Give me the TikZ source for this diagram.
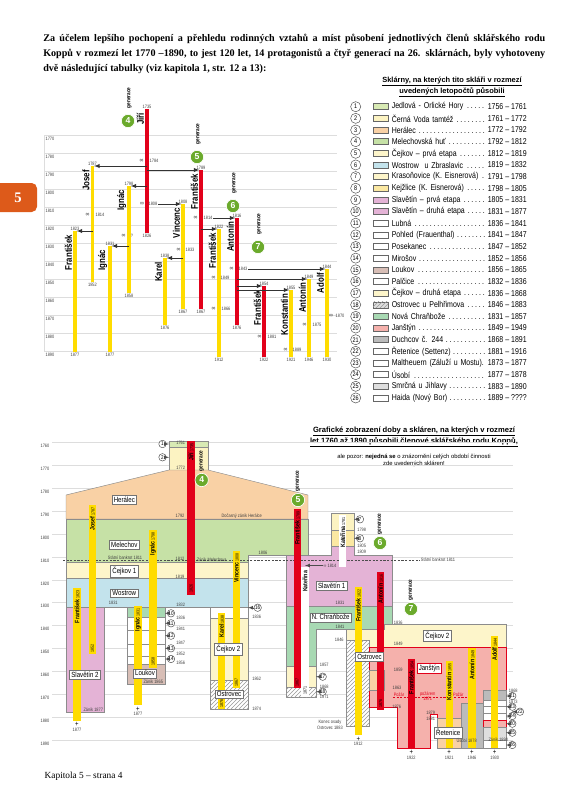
\documentclass[tikz,border=0pt]{standalone}
\usepackage{fontspec}
\setmainfont{Liberation Serif}
\newfontfamily\condfont{Liberation Sans}[FakeStretch=0.82]
\newfontfamily\plainsans{Liberation Sans}
\usetikzlibrary{patterns}

\definecolor{koppyellow}{HTML}{FFDC00}
\definecolor{koppred}{HTML}{E2001A}
\definecolor{gengreen}{HTML}{6BAA2C}
\definecolor{tabor}{HTML}{DD5A1A}
\definecolor{gridgrey}{HTML}{DDDDDD}
\definecolor{jedlova}{HTML}{D8EAB4}
\definecolor{cernavoda}{HTML}{FCF3C2}
\definecolor{heralec}{HTML}{F9D1A5}
\definecolor{melechov}{HTML}{C6E1A6}
\definecolor{cejkov}{HTML}{FDF5CA}
\definecolor{wostrow}{HTML}{C3E3EC}
\definecolor{kejzlice}{HTML}{FBE8A2}
\definecolor{slavetin}{HTML}{E4B3D6}
\definecolor{loukov}{HTML}{D8BEB6}
\definecolor{chranboze}{HTML}{A8D9B3}
\definecolor{janstyn}{HTML}{F5B1AC}
\definecolor{duchcov}{HTML}{BBBBBB}
\definecolor{smrcna}{HTML}{DEDEDE}

\tikzset{
  gridline/.style={gridgrey, line width=0.5pt},
  yearlab/.style={font=\condfont\fontsize{3.6}{4}\selectfont, text=black!75, inner sep=0.4pt},
  inflab/.style={font=\condfont\fontsize{5}{4}\selectfont, text=black!75, inner sep=0.4pt},
  pname/.style={rotate=90, font=\condfont\bfseries\fontsize{7.2}{7}\selectfont, inner sep=0.3pt},
  bname/.style={rotate=90, font=\condfont\bfseries\fontsize{4.8}{5}\selectfont, inner sep=0.6pt},
  gen/.style={circle, fill=gengreen, draw=white, line width=0.5pt, text=white,
    font=\plainsans\bfseries\fontsize{6.5}{6}\selectfont, inner sep=0pt, minimum size=10pt},
  genlab/.style={rotate=90, font=\condfont\bfseries\fontsize{4.3}{4}\selectfont, inner sep=0.3pt},
  kid/.style={-latex, line width=0.45pt, black!80, shorten >=1.2pt},
  placebox/.style={draw=black!55, fill=white, line width=0.35pt,
    font=\condfont\fontsize{5.6}{6}\selectfont, inner sep=1.3pt},
  numcirc/.style={circle, draw=black!70, fill=white, line width=0.35pt,
    font=\condfont\fontsize{4.2}{4}\selectfont, inner sep=0pt, minimum size=5.6pt},
  numarrow/.style={-latex, line width=0.3pt, black!70},
  region/.style={draw=black!45, line width=0.35pt},
  hatch/.style={pattern=north east lines, pattern color=black!40},
  tabrow/.style={font=\condfont\fontsize{6.4}{7}\selectfont, inner sep=0pt}
}

\begin{document}
\begin{tikzpicture}[x=0.75pt, y=-0.75pt]
  \useasboundingbox (0,0) rectangle (571,800);

  % page tab and footer
  \fill[tabor, rounded corners=4pt] (-6,183) rectangle (37,212);
  \node[font=\bfseries\fontsize{11}{11}\selectfont, text=white] (tab) at (18,197.5) {5};
  \node[anchor=west, font=\fontsize{7}{8}\selectfont] (footer) at (40,776) {Kapitola 5 – strana 4};

  % intro text
  \node[anchor=north west, text width=376.5pt, align=justify, inner sep=0pt,
        font=\bfseries\fontsize{7.6}{11.1}\selectfont] (intro) at (43,34)
    {Za účelem lepšího pochopení a přehledu rodinných vztahů a míst působení jednotlivých členů sklářského rodu\linebreak
     Koppů v rozmezí let 1770 –1890, to jest 120 let, 14 protagonistů a čtyř generací na 26. sklárnách, byly vyhotoveny\linebreak
     dvě následující tabulky (viz kapitola 1, str. 12 a 13):};

  % ================= top chart =================
  % grid
  \foreach \yr in {1770,1780,...,1890}
    {
    \draw[gridline] (44,{135.5+(\yr-1770)*1.8}) -- (337,{135.5+(\yr-1770)*1.8});
    \node[yearlab] (ty\yr) at (50,{138.6+(\yr-1770)*1.8}) {\yr};
    }
  \draw[gridline] (44,135.5) -- (44,351.5);

  % persons
  \foreach \id/\nm/\x/\tp/\bt/\col/\ya/\yb in {
      jiri/Jiří/147/109/233/koppred/1735/1826,
      josef/Josef/92.5/166/282/koppyellow/1787/1852,
      ignac/Ignác/129/186/293/koppyellow/1798/1858,
      vincenc/Vincenc/183/204/309/koppyellow/1808/1867,
      frantV/František/201/170/309/koppred/1789/1867,
      frantL/František/75/231/352/koppyellow/1823/1877,
      ignacII/Ignác/110/246/352/koppyellow/1831/1877,
      karel/Karel/165/258/325/koppyellow/1838/1876,
      frantVI/František/219/229/357/koppyellow/1822/1912,
      antonVI/Antonín/237/218/325/koppred/1816/1876,
      frantVII/František/264/286/357/koppred/1854/1922,
      konst/Konstantin/291/290/357/koppyellow/1855/1921,
      antonVII/Antonín/309/279/357/koppyellow/1849/1946,
      adolf/Adolf/327/269/357/koppyellow/1844/1930}
    {
    \coordinate (\id-t) at (\x,\tp);
    \coordinate (\id-b) at (\x,\bt);
    \draw[line width=2.3pt, \col] (\id-t) -- (\id-b);
    \node[yearlab, anchor=south] (\id-ya) at (\id-t) {\ya};
    \node[yearlab, anchor=north] (\id-yb) at (\id-b) {\yb};
    \node[pname, anchor=south east] (\id-nm) at ([xshift=-1.7pt, yshift=-2.5pt]\id-t) {\nm};
    }

  % marriages
  \foreach \mx/\my/\yx/\yr/\id in {
      141.5/161/154/1784/a, 142/204/153/1808/b, 87.5/215/100/1814/c,
      123.5/236/132/?/d, 178.5/250/190/1833/e, 195.5/218/208/1814/f,
      231.5/269/243/1843/g, 213.5/278/225/1849/h, 213.5/309/226/1866/i,
      259.5/337/272/1881/j, 285.5/350/297/1889/k, 304.5/325/317/1875/l,
      331/316/340/1870/m}
    {
    \node[inflab] (inf\id) at (\mx,\my) {∞};
    \node[yearlab] (mar\id) at (\yx,\my) {\yr};
    }

  % children
  \draw[kid] (jiri-t |- josef-t) -- (josef-t);
  \draw[kid] (jiri-t |- frantV-t) -- (frantV-t);
  \draw[kid] (jiri-t |- ignac-t) -- (ignac-t);
  \draw[kid] (marb.east) -- (vincenc-t);
  \draw[kid] (josef-t |- frantL-t) -- (frantL-t);
  \draw[kid] (ignac-t |- ignacII-t) -- (ignacII-t);
  \draw[kid] (vincenc-t |- karel-t) -- (karel-t);
  \draw[kid] (marf.east) -- (antonVI-t);
  \draw[kid] (frantV-t |- frantVI-t) -- (frantVI-t);
  \draw[kid] (marg.east) -- (adolf-t);
  \draw[kid] (antonVI-t |- antonVII-t) -- (antonVII-t);
  \draw[kid] (antonVI-t |- frantVII-t) -- (frantVII-t);
  \draw[kid] (antonVI-t |- konst-t) -- (konst-t);

  % generations
  \foreach \g/\gx/\gy in {4/128/121, 5/197/157, 6/233/206, 7/258/247}
    {
    \node[gen] (gen\g) at (\gx,\gy) {\g};
    \node[genlab] (genl\g) at (\gx+1.5,\gy-23) {generace};
    }

  % ================= table =================
  \node[font=\plainsans\bfseries\fontsize{5.6}{8}\selectfont, align=center] (tabtitle) at (452,87)
    {\underline{Sklárny, na kterých tito skláři v rozmezí}\\\underline{uvedených letopočtů působili}};
  \foreach \n/\col/\nm/\dt in {
      1/jedlova/Jedlová - Orlické Hory/1756 – 1761,
      2/cernavoda/Černá Voda tamtéž/1761 – 1772,
      3/heralec/Herálec/1772 – 1792,
      4/melechov/Melechovská huť/1792 – 1812,
      5/cejkov/Čejkov – prvá etapa/1812 – 1819,
      6/wostrow/Wostrow~ u Zbraslavic/1819 – 1832,
      7/cejkov/Krasoňovice (K. Eisnerová)/1791 – 1798,
      8/kejzlice/Kejžlice (K. Eisnerová)/1798 – 1805,
      9/slavetin/Slavětín – prvá etapa/1805 – 1831,
      10/slavetin/Slavětín – druhá etapa/1831 – 1877,
      11/white/Lubná/1836 – 1841,
      12/white/Pohled (Frauenthal)/1841 – 1847,
      13/white/Posekanec/1847 – 1852,
      14/white/Mirošov/1852 – 1856,
      15/loukov/Loukov/1856 – 1865,
      16/white/Palčice/1832 – 1836,
      17/cejkov/Čejkov – druhá etapa/1836 – 1868,
      18/smrcna/Ostrovec u Pelhřimova/1846 – 1883,
      19/chranboze/Nová Chraňbože/1831 – 1857,
      20/janstyn/Janštýn/1849 – 1949,
      21/duchcov/Duchcov č. 244/1868 – 1891,
      22/white/Řetenice (Settenz)/1881 – 1916,
      23/white/Maltheuern (Záluží u Mostu)./1873 – 1877,
      24/white/Úsobí/1877 – 1878,
      25/smrcna/Smrčná u Jihlavy/1883 – 1890,
      26/white/Haida (Nový Bor)/1889 – ????}
    {
    \node[numcirc, minimum size=7.6pt, font=\condfont\fontsize{5}{5}\selectfont] (tc\n) at (355.7,{106.7+(\n-1)*11.65}) {\n};
    \draw[black!60, line width=0.35pt, fill=\col] (373,{103.7+(\n-1)*11.65}) rectangle (388,{109.7+(\n-1)*11.65});
    \node[tabrow, anchor=west, text width=71pt] (tn\n) at (391.5,{106.7+(\n-1)*11.65}) {\nm\,\dotfill};
    \node[tabrow, anchor=east] (td\n) at (527,{106.7+(\n-1)*11.65}) {\dt};
    }
  \fill[hatch] (373,{103.7+17*11.65}) rectangle (388,{109.7+17*11.65});

  % ================= bottom chart =================
  \node[font=\plainsans\bfseries\fontsize{5.7}{8.4}\selectfont, align=center] (btitle) at (414,437)
    {\underline{Grafické zobrazení doby a skláren, na kterých v rozmezí}\\\underline{let 1760 až 1890 působili členové sklářského rodu Koppů,}};
  \node[font=\plainsans\fontsize{4.4}{5.6}\selectfont, align=center] (bnote) at (414,460.5)
    {ale pozor: \textbf{nejedná se} o znázornění celých období činnosti\\zde uvedených skláren!};

  % grid
  \foreach \yr in {1760,1770,...,1890}
    {
    \draw[gridline] (52,{442.5+(\yr-1760)*2.29}) -- (513,{442.5+(\yr-1760)*2.29});
    \node[yearlab] (by\yr) at (45,{446+(\yr-1760)*2.29}) {\yr};
    }

  % glassworks, first generations
  \filldraw[region, fill=jedlova] (169,441) rectangle (208,447);
  \filldraw[region, fill=cernavoda] (169,447) rectangle (208,470);
  \filldraw[region, fill=heralec] (66,495) -- (169,470) -- (208,470) -- (308,495) -- (308,519) -- (66,519) -- cycle;
  \filldraw[region, fill=melechov] (66,519) -- (308,519) -- (308,555) -- (248,555) -- (248,562) -- (66,562) -- cycle;
  \filldraw[region, fill=cejkov] (66,562) rectangle (248,578);
  \filldraw[region, fill=wostrow] (66,578) rectangle (248,607);
  \filldraw[region, fill=slavetin] (66,607) rectangle (104,712);
  % Lubná ... Loukov
  \filldraw[region, fill=chranboze] (127,607) rectangle (165,617);
  \foreach \ra/\rb in {617/630, 630/644, 644/656, 656/664}
    \filldraw[region, fill=white] (127,\ra) rectangle (165,\rb);
  \filldraw[region, fill=loukov] (127,664) rectangle (165,684);
  % Palčice, Čejkov 2, Ostrovec
  \filldraw[region, fill=white] (210,607) rectangle (248,618);
  \filldraw[region, fill=cejkov] (210,618) rectangle (248,680);
  \filldraw[region, fill=white] (210,680) rectangle (248,709);
  \fill[hatch] (210,680) rectangle (248,709);

  % Krasoňovice, Kejžlice, Slavětín, Nová Chraňbože
  \filldraw[region, fill=cernavoda] (331,513) rectangle (354,530);
  \filldraw[region, fill=kejzlice] (331,530) rectangle (354,546);
  \filldraw[region, fill=slavetin] (286,555) -- (331,555) -- (331,546) -- (354,546) -- (354,555) -- (392,555)
        -- (392,606) -- (286,606) -- cycle;
  \filldraw[region, fill=chranboze] (286,606) -- (392,606) -- (392,624) -- (384,624) -- (384,629) -- (316,629)
        -- (316,666) -- (286,666) -- cycle;
  \filldraw[region, fill=cejkov] (286,666) rectangle (316,687);
  \filldraw[region, fill=white] (286,687) rectangle (316,697);
  \fill[hatch] (286,687) rectangle (316,697);

  % Čejkov 2, Ostrovec, Janštýn and the last works
  \filldraw[region, fill=cejkov] (346,629) -- (384,629) -- (384,624) -- (506,624) -- (506,647) -- (369,647)
        -- (369,640) -- (346,640) -- cycle;
  \filldraw[region, fill=white] (346,640) rectangle (369,726);
  \fill[hatch] (346,640) rectangle (369,726);
  \filldraw[draw=koppred, line width=0.45pt, fill=janstyn] (369,647) -- (506,647) -- (506,690) -- (483,690)
        -- (483,703) -- (461,703) -- (461,718) -- (437,718) -- (437,714) -- (430,714) -- (430,748)
        -- (397,748) -- (397,707) -- (369,707) -- cycle;
  \filldraw[region, fill=heralec] (369,670) rectangle (384,690);
  \filldraw[region, fill=duchcov] (461,703) rectangle (483,748);
  \filldraw[region, fill=heralec] (437,718) rectangle (461,748);
  \filldraw[region, fill=duchcov] (483,690) rectangle (506,700);
  \foreach \ra/\rb in {700/706, 706/713, 713/720, 740/748}
    \filldraw[region, fill=white] (483,\ra) rectangle (506,\rb);
  \filldraw[draw=koppred, line width=0.45pt, fill=janstyn] (483,720) rectangle (506,727);
  \filldraw[region, fill=smrcna] (483,727) rectangle (506,740);

  % state bankruptcy and the fire
  \draw[black!70, line width=0.35pt, dash pattern=on 1.6pt off 1.1pt] (63,560.5) -- (420,560.5);
  \draw[koppred, line width=0.35pt, dash pattern=on 1.6pt off 1.1pt] (393,697) -- (467,697);

  % persons
  \foreach \id/\nm/\x/\tp/\bt/\col/\ya/\yb in {
      bjiri/Jiří/191/441/594.5/koppred/1735/1826,
      bjosef/Josef/92.3/505/654.3/koppyellow/1787/1852,
      bfrantL/František/77/588/720.7/koppyellow/1823/,
      bignac/Ignác/153/530/667.7/koppyellow/1798/1858,
      bignacII/Ignác/138/606/705/koppyellow/1831/,
      bkarel/Karel/221.7/612.7/709.3/koppyellow/1838/1876,
      bvinc/Vincenc/236.3/551/688.3/koppyellow/1808/1867,
      bfrantV/František/297.2/509.3/688.3/koppred/1789/1867,
      bkatI/Kateřina/342.7/515/567.3/white/1781/,
      bkatII/Kateřina/305/567.3/696.7/white//1871,
      bantonVI/Antonín/380.5/571.7/710/koppred/1816/1876,
      bfrantVI/František/358.3/586.7/735/koppyellow/1822/,
      bfrantVII/František/411.3/659/748.3/koppred/1854/,
      bkonst/Konstantin/449.2/661/748.3/koppyellow/1855/,
      bantonVII/Antonín/472/647.7/748.3/koppyellow/1849/,
      badolf/Adolf/494.7/635.7/748.3/koppyellow/1844/}
    {
    \coordinate (\id-t) at (\x,\tp);
    \fill[\col] (\x-3.6,\tp) rectangle (\x+3.6,\bt);
    \node[bname, anchor=east] (\id-n) at (\x,\tp+1.5) {\nm\,{\mdseries\fontsize{3.3}{3}\selectfont\ya}};
    \node[bname, anchor=west, font=\condfont\fontsize{3.3}{3}\selectfont] (\id-e) at (\x,\bt-1.2) {\yb};
    }
  \foreach \id/\x/\bt/\yr in {bfrantL/77/720.7/1877, bignacII/138/705/1877, bfrantVI/358.3/735/1912,
      bfrantVII/411.3/748.3/1922, bkonst/449.2/748.3/1921, bantonVII/472/748.3/1946, badolf/494.7/748.3/1930}
    {
    \node[font=\condfont\fontsize{5.5}{5}\selectfont, inner sep=0pt] (\id-plus) at (\x,\bt+4) {+};
    \node[yearlab] (\id-d) at (\x,\bt+9.3) {\yr};
    }
  \node[yearlab] (bk1814) at (330,565.5) {∞ 1814};
  \draw[numarrow] (bk1814.west) -- (bk1814.west -| bkatII-t);

  % generations
  \foreach \g/\gx/\gy in {4/201.7/480, 5/298/500, 6/380/543, 7/411/609}
    {
    \node[gen] (bgen\g) at (\gx,\gy) {\g};
    \node[genlab] (bgenl\g) at (\gx,\gy-19) {generace};
    }

  % names of the works
  \foreach \id/\px/\py/\txt in {
      heral/124.3/500/Herálec, melech/124.3/545/Melechov, cejI/124.3/571/Čejkov 1,
      wost/124.3/593.3/Wostrow, slavII/85/675/Slavětín 2, louk/145/673.3/Loukov,
      cejIIa/228.3/649/Čejkov 2, ostra/229/694.3/Ostrovec, slavI/331.7/586/Slavětín 1,
      chran/330.7/617.3/N. Chraňbože, ostrb/369.5/656.7/Ostrovec, cejIIb/437.3/635.7/Čejkov 2,
      reten/448.3/732.7/Řetenice}
    \node[placebox] (pb-\id) at (\px,\py) {\txt};
  \node[placebox, draw=koppred, line width=0.5pt] (pb-janst) at (429.3,668.3) {Janštýn};

  % years and notes
  \foreach \lx/\ly/\txt [count=\i] in {
      180.7/443.3/1761, 180.7/468.3/1772, 180/516/1792, 241.7/516/Dočasný zánik Herálce,
      125/557.3/Státní bankrot 1811, 180/559.3/1812, 211.7/559.3/Zánik Melechova, 263/553/1806,
      180/576.7/1819, 113.3/603.3/1831, 180.7/605.3/1832, 93.3/709.3/Zánik 1877,
      180.7/617.7/1836, 180.7/629/1841, 180.7/642.7/1847, 180.7/654.3/1852, 180.7/663.3/1856,
      153.3/681.7/Zánik 1865, 256.7/616.7/1836, 256.7/679/1862, 256.7/709.3/1874,
      438/560/Státní bankrot 1811, 361.7/530/1798, 361.7/546/1805, 361.7/551.7/1809,
      340/603.3/1831, 340/626.7/1841, 398.3/622.7/1836, 339.3/640/1846,
      324.3/665/1857, 324.3/686.7/1868, 324.3/696.7/1871, 330/722.5/Konec osady, 330/727.5/Ostrovec 1883,
      398.3/644.3/1849, 398.3/670/1859, 397/688.3/1863, 396.7/707/1876, 430.7/713.3/1879, 430.7/719.3/1881,
      466.7/740/Úsobí 1878, 498.3/739.3/Zánik 1890, 513.3/690.7/1868, 513.3/701.7/1873}
    \node[yearlab] (bl\i) at (\lx,\ly) {\txt};
  \foreach \lx/\ly/\txt [count=\i] in {399/694.5/Požár, 427.7/693.8/požárem, 427.7/699.3/1871, 458.3/694.5/Požár}
    \node[yearlab, text=koppred] (fire\i) at (\lx,\ly) {\txt};

  % numbered works
  \foreach \n/\cx/\cy/\ex in {
      1/162.5/444/169, 2/162.5/457.3/169, 10/171/613.3/165, 11/171/623.3/165, 12/171/635.7/165,
      13/171/648.3/165, 14/171/659/165, 16/257.7/607.7/248, 7/360/519.3/354, 8/360/538.3/354,
      17/322.7/676.7/316, 18/322.7/691.7/316, 21/512.3/696/506, 23/512.3/706.7/506,
      22/520/711.7/512, 24/512.3/716/506, 20/512.3/723.7/506, 25/512.3/732.7/506, 26/512.3/745/506}
    {
    \node[numcirc] (nb\n) at (\cx,\cy) {\n};
    \coordinate (eb\n) at (\ex,\cy);
    \draw[numarrow] (nb\n) -- (eb\n);
    }
\end{tikzpicture}
\end{document}
